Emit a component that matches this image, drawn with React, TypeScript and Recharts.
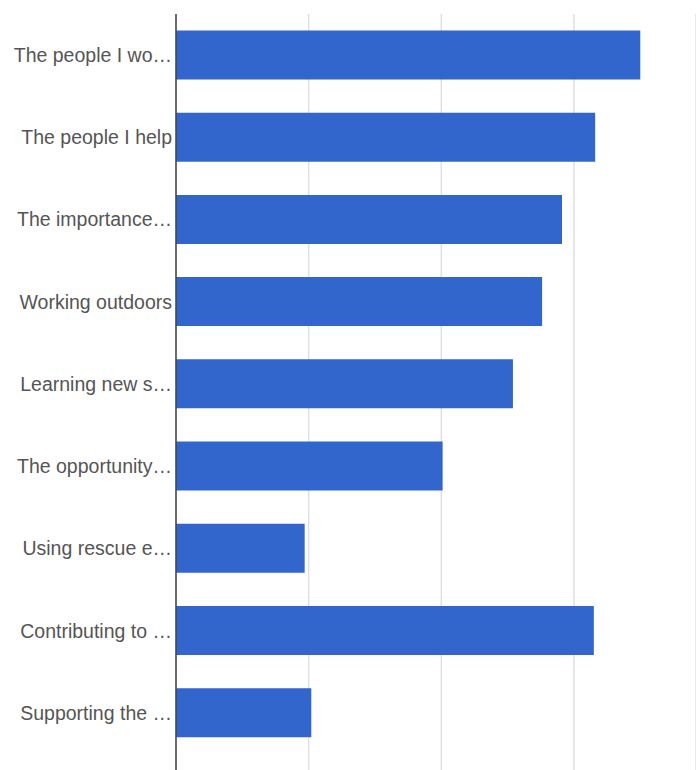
import { BarChart, Bar, XAxis, YAxis, CartesianGrid } from 'recharts';

const categories = [
  'The people I wo…',
  'The people I help',
  'The importance…',
  'Working outdoors',
  'Learning new s…',
  'The opportunity…',
  'Using rescue e…',
  'Contributing to …',
  'Supporting the …',
];

const scores = [3.5, 3.16, 2.91, 2.76, 2.54, 2.01, 0.97, 3.15, 1.02];

const xTicks = [0, 1, 2, 3];

const data = categories.map((name, i) => ({ name, value: scores[i] }));

export default function App() {
  return (
    <div style={{ position: 'fixed', left: 0, top: 0, background: '#fff' }}>
      <BarChart
        width={696}
        height={770}
        data={data}
        layout="vertical"
        barCategoryGap="20%"
        margin={{ top: 14, right: 0, bottom: 0, left: 0 }}
      >
        <CartesianGrid horizontal={false} stroke="#e0e0e0" strokeWidth={1.5} />
        <XAxis
          type="number"
          domain={[0, 3.92]}
          ticks={xTicks}
          allowDataOverflow
          hide
        />
        <YAxis
          type="category"
          dataKey="name"
          width={176}
          padding={{ top: 0, bottom: 16 }}
          tickLine={false}
          tickSize={2}
          tickMargin={2}
          axisLine={{ stroke: '#444', strokeWidth: 1.5 }}
          tick={{ fill: '#555', fontSize: 19.5, fontFamily: 'Liberation Sans, Arial, sans-serif' }}
        />
        <Bar dataKey="value" fill="#3366cc" isAnimationActive={false} />
      </BarChart>
    </div>
  );
}
